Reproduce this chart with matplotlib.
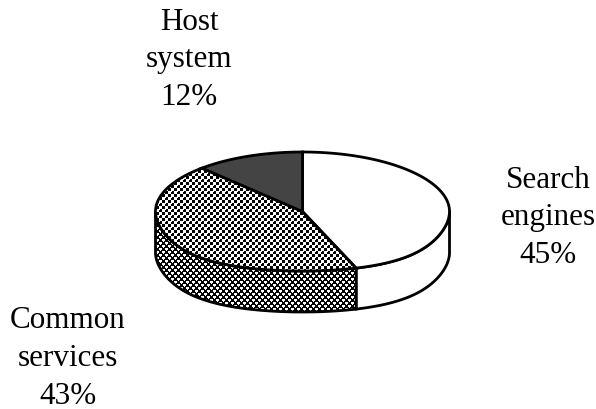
import numpy as np
import matplotlib
matplotlib.use("Agg")
import matplotlib.pyplot as plt
from matplotlib.patches import PathPatch
from matplotlib.path import Path

LABELS = ["Search\nengines\n45%", "Common\nservices\n43%", "Host\nsystem\n12%"]
VALUES = [45, 43, 12]
FACE_COLORS = ["white", None, "#444444"]

WIDTH, HEIGHT = 596, 410
CX, CY = 302.5, 212.5
RX, RY = 147, 59.5
DEPTH = 41
LW = 2.0


def rim(a0, a1, n=160, drop=0):
    # angles run clockwise from twelve o'clock, in degrees
    t = np.radians(np.linspace(a0, a1, n))
    # the near side of the disc is a little wider, as in a perspective view
    spread = 1 + 0.21 * np.clip(-np.cos(t), 0, 1) ** 3
    return np.column_stack([CX + RX * np.sin(t) * spread, CY + drop - RY * np.cos(t)])


def to_path(points):
    points = np.vstack([points, points[0]])
    codes = [Path.MOVETO] + [Path.LINETO] * (len(points) - 2) + [Path.CLOSEPOLY]
    return Path(points, codes)


def checker(heavy):
    # 6 px dither tile repeated over the whole canvas
    yy, xx = np.mgrid[0:HEIGHT, 0:WIDTH]
    w = ((xx % 6 < 3) & (yy % 6 < 3)) | (((xx + 3) % 6 < 3) & ((yy + 3) % 6 < 3))
    if heavy:
        # knock two corners out of every white square
        w &= ~((xx % 3 == 2) & (yy % 3 == 2))
        w &= ~((xx % 3 == 0) & (yy % 3 == 2))
    else:
        w |= (xx % 6 == 3) & (yy % 6 == 0)
    return w.astype(float)


fig = plt.figure(figsize=(WIDTH / 100, HEIGHT / 100), dpi=100)
ax = fig.add_axes([0, 0, 1, 1])

edges = np.concatenate([[0], np.cumsum(VALUES)]) * 360 / sum(VALUES)

# side wall, only the part of the rim facing the viewer
split = edges[1]
wall_white = np.vstack([rim(90, split), rim(split, 90, drop=DEPTH)])
wall_dark = np.vstack([rim(split, 270), rim(270, split, drop=DEPTH)])
ax.add_patch(PathPatch(to_path(wall_white), fc="white", ec="black", lw=LW, zorder=2))
ax.add_patch(PathPatch(to_path(wall_dark), fc="none", ec="black", lw=LW, zorder=4))
im = ax.imshow(checker(True), cmap="gray", vmin=0, vmax=1, extent=(0, WIDTH, HEIGHT, 0),
               interpolation="nearest", zorder=3, aspect="auto")
im.set_clip_path(PathPatch(to_path(wall_dark), transform=ax.transData))

# top face wedges
for i, val in enumerate(VALUES):
    pts = np.vstack([[CX, CY], rim(edges[i], edges[i + 1])])
    if FACE_COLORS[i] is None:
        top = ax.imshow(checker(False), cmap="gray", vmin=0, vmax=1, extent=(0, WIDTH, HEIGHT, 0),
                        interpolation="nearest", zorder=5, aspect="auto")
        top.set_clip_path(PathPatch(to_path(pts), transform=ax.transData))
        ax.add_patch(PathPatch(to_path(pts), fc="none", ec="black", lw=LW, zorder=6))
    else:
        ax.add_patch(PathPatch(to_path(pts), fc=FACE_COLORS[i], ec="black", lw=LW, zorder=6))

ax.set_xlim(0, WIDTH)
ax.set_ylim(HEIGHT, 0)
ax.axis("off")

text_style = dict(family="Liberation Serif", fontsize=22.4, ha="center", va="center",
                  linespacing=1.40, color="black")
ax.text(548, 218, LABELS[0], **text_style)
ax.text(68, 358.5, LABELS[1], **text_style)
ax.text(189, 60, LABELS[2], **text_style)

fig.savefig("out.png", dpi=100)
